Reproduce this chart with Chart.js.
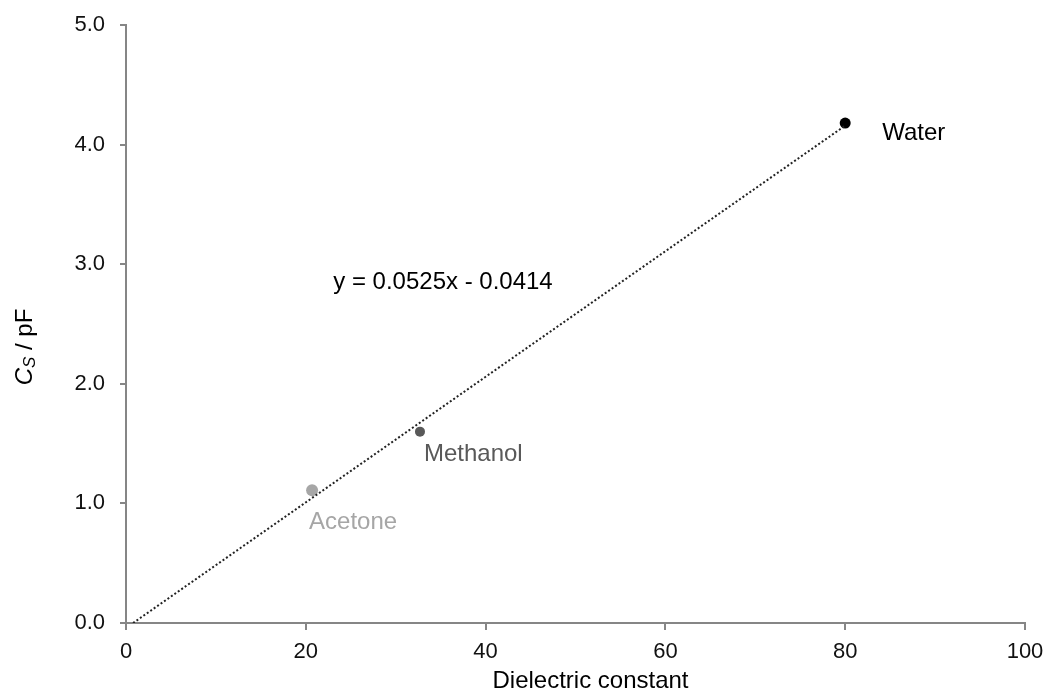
<!DOCTYPE html>
<html>
<head>
<meta charset="utf-8">
<script src="https://cdn.jsdelivr.net/npm/chart.js@4.4.1/dist/chart.umd.min.js"></script>
<style>
  html, body { margin: 0; padding: 0; background: #fff; }
  #wrap { width: 1046px; height: 693px; }
</style>
</head>
<body>
<div id="wrap"><canvas id="chart" width="1046" height="693"></canvas></div>
<script>
const FONT = 'Liberation Sans, Arial, sans-serif';

// solvents: dielectric constant vs. measured capacitance
const solvents = ['Water', 'Methanol', 'Acetone'];
const dielectric = [80, 32.7, 20.7];
const capacitance = [4.18, 1.6, 1.11];
const pointColors = ['#000000', '#595959', '#a6a6a6'];
const pointSizes = [5.5, 5, 6];

// linear fit
const slope = 0.0525;
const intercept = -0.0414;
const fitText = 'y = 0.0525x - 0.0414';

// label offsets in px from each point (text left, baseline)
const labelOffsets = [[37, 17], [4, 29], [-3, 39]];

const xTicks = [0, 20, 40, 60, 80, 100];
const yTicks = [0, 1, 2, 3, 4, 5];

const fitStart = -intercept / slope;
const fitEnd = 80;

const labelsPlugin = {
  id: 'labels',
  afterDraw(chart) {
    const { ctx, chartArea, scales: { x, y } } = chart;
    ctx.save();
    ctx.font = `24px ${FONT}`;
    ctx.textBaseline = 'alphabetic';
    ctx.textAlign = 'left';
    solvents.forEach((name, i) => {
      const px = x.getPixelForValue(dielectric[i]);
      const py = y.getPixelForValue(capacitance[i]);
      ctx.fillStyle = pointColors[i];
      ctx.fillText(name, px + labelOffsets[i][0], py + labelOffsets[i][1]);
    });

    // fit equation
    ctx.fillStyle = '#000';
    ctx.fillText(fitText, x.getPixelForValue(23.05), y.getPixelForValue(2.79));

    // x axis title
    ctx.textAlign = 'center';
    ctx.fillText('Dielectric constant', (chartArea.left + chartArea.right) / 2 + 15, 688);

    // y axis title: italic C with subscript S, then " / pF"
    ctx.translate(25, (chartArea.top + chartArea.bottom) / 2 + 23);
    ctx.rotate(-Math.PI / 2);
    const parts = [
      { t: 'C', f: `italic 24px ${FONT}`, dy: 0 },
      { t: 'S', f: `italic 17px ${FONT}`, dy: 5 },
      { t: ' / pF', f: `24px ${FONT}`, dy: 0 }
    ];
    let total = 0;
    parts.forEach(p => { ctx.font = p.f; p.w = ctx.measureText(p.t).width; total += p.w; });
    let cx = -total / 2;
    ctx.textAlign = 'left';
    ctx.textBaseline = 'middle';
    parts.forEach(p => {
      ctx.font = p.f;
      ctx.fillText(p.t, cx, p.dy);
      cx += p.w;
    });
    ctx.restore();
  }
};

const axisColor = '#868686';

new Chart(document.getElementById('chart'), {
  type: 'scatter',
  data: {
    datasets: [
      {
        label: 'fit',
        type: 'line',
        data: [{ x: fitStart, y: slope * fitStart + intercept }, { x: fitEnd, y: slope * fitEnd + intercept }],
        borderColor: '#222',
        borderWidth: 2,
        borderDash: [2, 2.2],
        pointRadius: 0,
        fill: false
      },
      {
        label: 'solvents',
        data: dielectric.map((d, i) => ({ x: d, y: capacitance[i] })),
        pointBackgroundColor: pointColors,
        pointBorderColor: pointColors,
        pointRadius: pointSizes,
        pointBorderWidth: 0
      }
    ]
  },
  options: {
    responsive: false,
    animation: false,
    layout: { padding: { top: 25, right: 21, bottom: 0, left: 0 } },
    plugins: {
      legend: { display: false },
      tooltip: { enabled: false }
    },
    scales: {
      x: {
        type: 'linear',
        min: 0,
        max: 100,
        afterBuildTicks: s => { s.ticks = xTicks.map(v => ({ value: v })); },
        afterFit: s => { s.height = 70; s.paddingLeft = 0; s.paddingRight = 0; },
        grid: { drawOnChartArea: false, drawTicks: true, tickLength: 7, color: axisColor, lineWidth: 2 },
        border: { color: axisColor, width: 2 },
        ticks: { color: '#111', padding: 9, font: { family: FONT, size: 22 }, maxRotation: 0 }
      },
      y: {
        type: 'linear',
        min: 0,
        max: 5,
        afterBuildTicks: s => { s.ticks = yTicks.map(v => ({ value: v })); },
        afterFit: s => { s.width = 126; s.paddingTop = 0; s.paddingBottom = 0; },
        grid: { drawOnChartArea: false, drawTicks: true, tickLength: 6, color: axisColor, lineWidth: 2 },
        border: { color: axisColor, width: 2 },
        ticks: { color: '#111', padding: 15, font: { family: FONT, size: 22 }, callback: v => v.toFixed(1) }
      }
    }
  },
  plugins: [labelsPlugin]
});
</script>
</body>
</html>
